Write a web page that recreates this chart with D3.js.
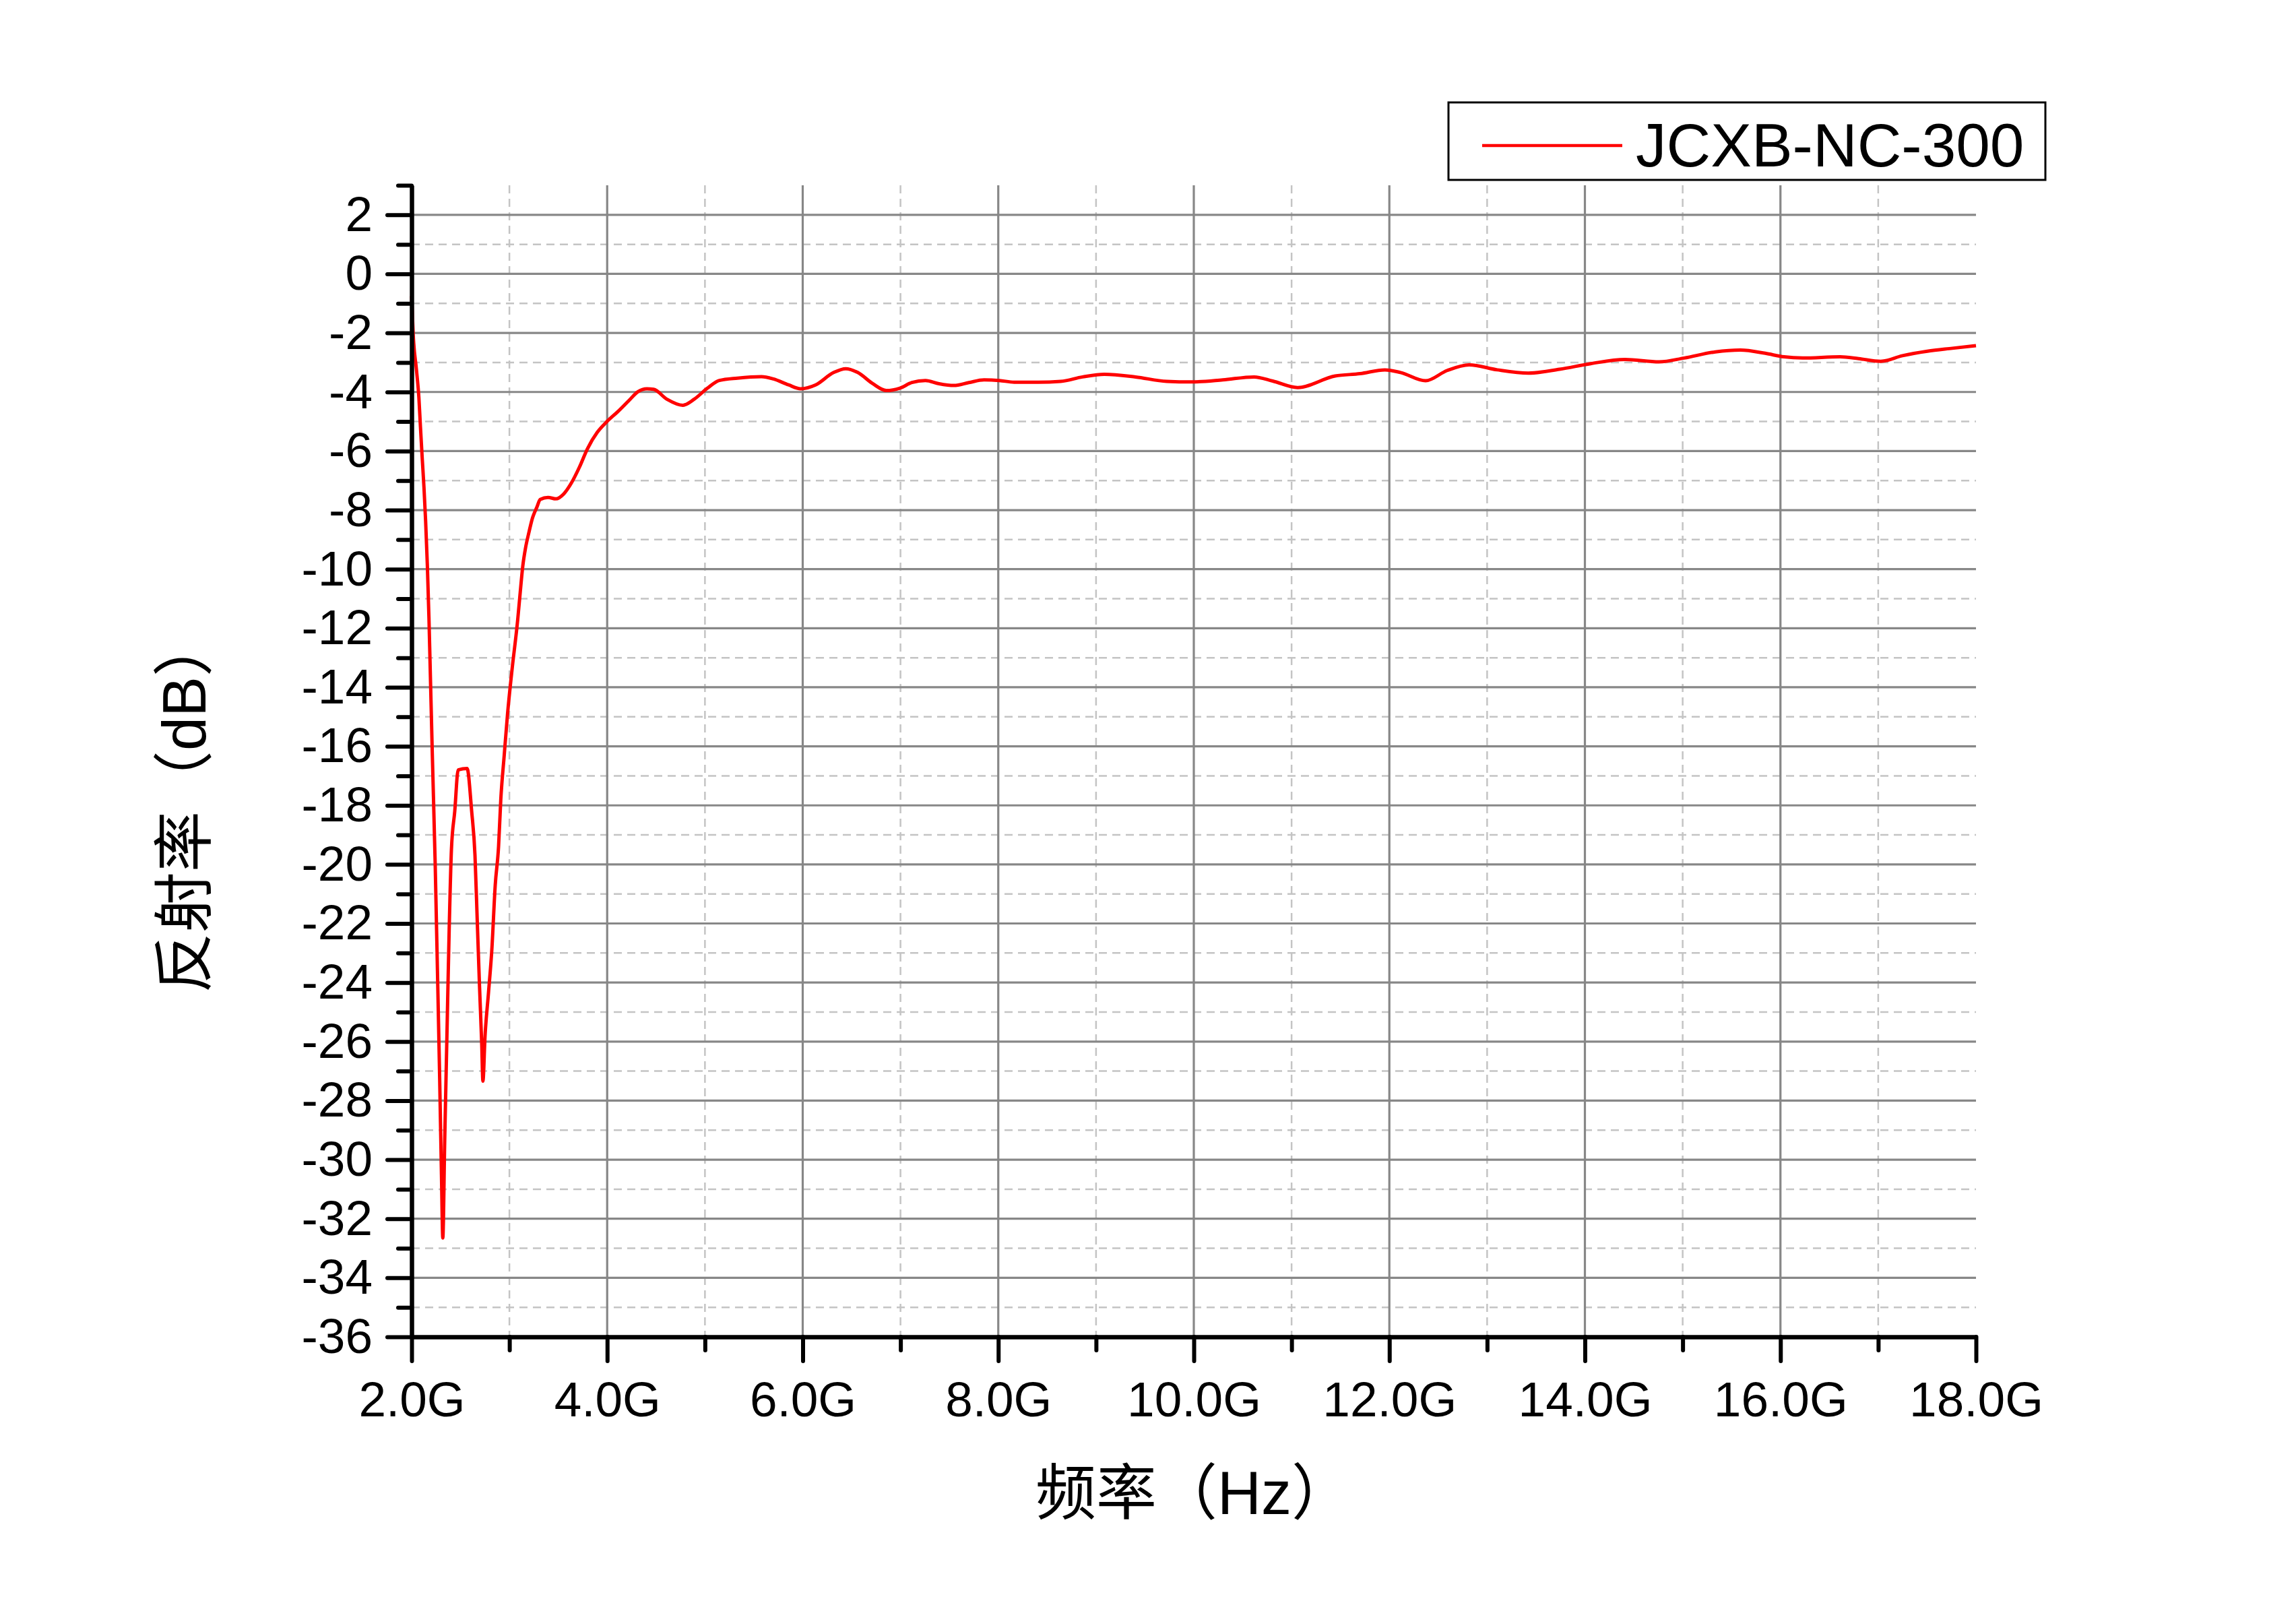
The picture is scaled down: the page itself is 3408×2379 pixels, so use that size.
<!DOCTYPE html>
<html>
<head>
<meta charset="utf-8">
<script src="https://cdn.jsdelivr.net/npm/d3@7/dist/d3.min.js"></script>
<style>
    body { margin: 0; background: #fff; }
    svg { display: block; }
</style>
</head>
<body>
<div id="chart"></div>
<script>
// frequency in GHz, reflectivity in dB
var freq = [
    2.000, 2.016, 2.050, 2.074, 2.090, 2.108, 2.126, 2.143, 2.161, 2.177,
    2.188, 2.211, 2.241, 2.264, 2.287, 2.305, 2.319, 2.338, 2.361, 2.384,
    2.407, 2.441, 2.476, 2.567, 2.614, 2.648, 2.671, 2.694, 2.717, 2.729,
    2.751, 2.786, 2.820, 2.855, 2.889, 2.912, 2.947, 2.981, 3.027, 3.085,
    3.108, 3.137, 3.165, 3.200, 3.234, 3.280, 3.315, 3.395, 3.475, 3.556,
    3.636, 3.717, 3.797, 3.900, 3.992, 4.107, 4.222, 4.314, 4.406, 4.475,
    4.613, 4.773, 4.888, 5.026, 5.147, 5.332, 5.578, 5.701, 5.855, 5.978,
    6.132, 6.316, 6.440, 6.563, 6.717, 6.855, 6.994, 7.117, 7.255, 7.394,
    7.547, 7.700, 7.855, 8.010, 8.163, 8.409, 8.639, 8.862, 9.085, 9.404,
    9.723, 9.978, 10.297, 10.616, 10.807, 11.062, 11.445, 11.700, 11.955, 12.114,
    12.370, 12.592, 12.816, 13.103, 13.421, 13.740, 14.059, 14.410, 14.760, 15.015,
    15.335, 15.590, 15.845, 16.036, 16.227, 16.610, 16.800, 17.025, 17.248, 17.503,
    17.758, 18.000
];
var refl = [
    -0.75, -2.05, -3.27, -4.18, -5.17, -6.23, -7.22, -8.37, -9.89, -11.64,
    -13.1, -16.2, -20.0, -23.6, -27.3, -30.5, -32.65, -29.4, -25.8, -22.2,
    -19.5, -18.2, -16.8, -16.75, -18.2, -19.7, -21.9, -24.1, -26.1, -27.34,
    -25.8, -24.35, -22.9, -20.7, -19.4, -17.8, -16.3, -14.9, -13.4, -11.71,
    -10.88, -9.89, -9.28, -8.75, -8.29, -7.91, -7.64, -7.57, -7.62, -7.45,
    -7.07, -6.54, -5.93, -5.36, -5.02, -4.67, -4.29, -3.99, -3.89, -3.91,
    -4.25, -4.45, -4.25, -3.87, -3.61, -3.53, -3.48, -3.56, -3.76, -3.89,
    -3.76, -3.34, -3.21, -3.34, -3.72, -3.95, -3.87, -3.68, -3.61, -3.72,
    -3.78, -3.68, -3.59, -3.61, -3.67, -3.67, -3.64, -3.49, -3.40, -3.49,
    -3.64, -3.66, -3.59, -3.49, -3.63, -3.85, -3.46, -3.38, -3.25, -3.34,
    -3.62, -3.27, -3.08, -3.25, -3.36, -3.23, -3.04, -2.90, -2.98, -2.85,
    -2.64, -2.58, -2.69, -2.81, -2.85, -2.81, -2.87, -2.96, -2.77, -2.62,
    -2.52, -2.43
];

var xMajor = [2, 4, 6, 8, 10, 12, 14, 16, 18];
var xMinor = [3, 5, 7, 9, 11, 13, 15, 17];
var yMajor = d3.range(-36, 3, 2);          // -36 .. 2
var yMinor = d3.range(-35, 4, 2);          // -35 .. 3
var seriesName = 'JCXB-NC-300';
var xTitle = ['频率（', 'Hz', '）'];
var yTitle = ['反射率（', 'dB', '）'];

var width = 3408,
    height = 2379,
    margin = {left: 611, right: 475, top: 275, bottom: 395},
    latin = '"Liberation Sans", Arial, sans-serif',
    cjk = '"Noto Sans CJK SC", sans-serif';

var x = d3.scaleLinear().domain([2, 18]).range([margin.left, width - margin.right]);
var y = d3.scaleLinear().domain([-36, 3]).range([height - margin.bottom, margin.top]);

var svg = d3.select('#chart').append('svg')
    .attr('width', width)
    .attr('height', height);

svg.append('rect').attr('width', width).attr('height', height).attr('fill', '#fff');

var grid = svg.append('g');

// minor (dashed) grid
grid.selectAll('.hmin').data(yMinor.filter(function (d) { return d < 3; }))
    .enter().append('line')
    .attr('x1', x(2)).attr('x2', x(18))
    .attr('y1', function (d) { return y(d); }).attr('y2', function (d) { return y(d); })
    .attr('stroke', '#c4c4c4').attr('stroke-width', 2.5).attr('stroke-dasharray', '12,8');
grid.selectAll('.vmin').data(xMinor)
    .enter().append('line')
    .attr('y1', y(3)).attr('y2', y(-36))
    .attr('x1', function (d) { return x(d); }).attr('x2', function (d) { return x(d); })
    .attr('stroke', '#c4c4c4').attr('stroke-width', 2.5).attr('stroke-dasharray', '12,8');

// major (solid) grid
grid.selectAll('.hmaj').data(yMajor.filter(function (d) { return d > -36; }))
    .enter().append('line')
    .attr('x1', x(2)).attr('x2', x(18))
    .attr('y1', function (d) { return y(d); }).attr('y2', function (d) { return y(d); })
    .attr('stroke', '#878787').attr('stroke-width', 3.2);
grid.selectAll('.vmaj').data(xMajor.filter(function (d) { return d > 2 && d < 18; }))
    .enter().append('line')
    .attr('y1', y(3)).attr('y2', y(-36))
    .attr('x1', function (d) { return x(d); }).attr('x2', function (d) { return x(d); })
    .attr('stroke', '#878787').attr('stroke-width', 3.2);

// curve
var points = freq.map(function (f, i) { return [f, refl[i]]; });
var line = d3.line()
    .x(function (d) { return x(d[0]); })
    .y(function (d) { return y(d[1]); })
    .curve(d3.curveMonotoneX);

svg.append('path')
    .datum(points)
    .attr('d', line)
    .attr('fill', 'none')
    .attr('stroke', '#ff0000')
    .attr('stroke-width', 5)
    .attr('stroke-linejoin', 'round');

// axes
function styleAxis(g) {
    g.selectAll('.domain').attr('stroke', '#000').attr('stroke-width', 6.5);
    g.selectAll('.tick line').attr('stroke', '#000').attr('stroke-width', 6)
        .attr('stroke-linecap', 'round');
    g.selectAll('.tick text')
        .attr('fill', '#000')
        .style('font-family', latin)
        .style('font-size', '73px');
}

var yMinorAxis = svg.append('g')
    .attr('transform', 'translate(' + x(2) + ',0)')
    .call(d3.axisLeft(y).tickValues(yMinor).tickSize(20).tickSizeOuter(0).tickFormat(''));
yMinorAxis.select('.domain').remove();
styleAxis(yMinorAxis);

var xMinorAxis = svg.append('g')
    .attr('transform', 'translate(0,' + y(-36) + ')')
    .call(d3.axisBottom(x).tickValues(xMinor).tickSize(20).tickSizeOuter(0).tickFormat(''));
xMinorAxis.select('.domain').remove();
styleAxis(xMinorAxis);

var yAxis = svg.append('g')
    .attr('transform', 'translate(' + x(2) + ',0)')
    .call(d3.axisLeft(y).tickValues(yMajor).tickSize(36).tickSizeOuter(0).tickPadding(22)
        .tickFormat(function (d) { return String(d); }));
styleAxis(yAxis);

var xAxis = svg.append('g')
    .attr('transform', 'translate(0,' + y(-36) + ')')
    .call(d3.axisBottom(x).tickValues(xMajor).tickSize(36).tickSizeOuter(0).tickPadding(30)
        .tickFormat(function (d) { return d.toFixed(1) + 'G'; }));
styleAxis(xAxis);

// axis titles
function title(sel, parts) {
    sel.append('tspan').style('font-family', cjk).text(parts[0]);
    sel.append('tspan').style('font-family', latin).text(parts[1]);
    sel.append('tspan').style('font-family', cjk).text(parts[2]);
}

var xt = svg.append('text')
    .attr('x', (x(2) + x(18)) / 2)
    .attr('y', 2247)
    .attr('text-anchor', 'middle')
    .style('font-size', '90px')
    .attr('fill', '#000');
title(xt, xTitle);

var yt = svg.append('text')
    .attr('transform', 'translate(305,1194) rotate(-90)')
    .attr('text-anchor', 'middle')
    .style('font-size', '90px')
    .attr('fill', '#000');
title(yt, yTitle);

// legend
var legend = svg.append('g');
legend.append('rect')
    .attr('x', 2150).attr('y', 152)
    .attr('width', 886).attr('height', 115)
    .attr('fill', '#fff')
    .attr('stroke', '#000')
    .attr('stroke-width', 3);
legend.append('line')
    .attr('x1', 2200).attr('x2', 2408)
    .attr('y1', 216).attr('y2', 216)
    .attr('stroke', '#ff0000')
    .attr('stroke-width', 4.5);
legend.append('text')
    .attr('x', 2428).attr('y', 247)
    .style('font-family', latin)
    .style('font-size', '91px')
    .attr('fill', '#000')
    .text(seriesName);
</script>
</body>
</html>
